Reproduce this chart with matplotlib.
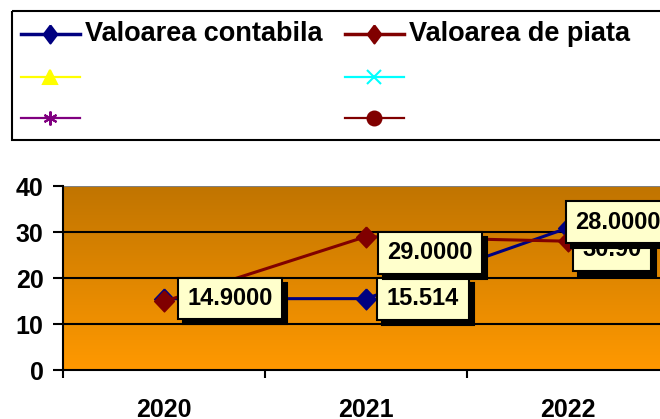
import numpy as np
import matplotlib
matplotlib.use("Agg")
import matplotlib.pyplot as plt
from matplotlib.lines import Line2D
from matplotlib.patches import Rectangle

plt.rcParams['font.family'] = ['Liberation Sans', 'DejaVu Sans']
plt.rcParams['font.weight'] = 'bold'

years = ['2020', '2021', '2022']
contabila = [15.5, 15.514, 30.9]
piata = [14.9, 29.0, 28.0]
contabila_labels = [None, '15.514', '30.90']
piata_labels = ['14.9000', '29.0000', '28.0000']
series_names = ['Valoarea contabila', 'Valoarea de piata']

# diamond shapes like the Excel markers
DIAMOND = [(0, 1), (0.95, 0), (0, -1), (-0.95, 0), (0, 1)]
LEG_DIAMOND = [(0, 1), (0.75, 0), (0, -1), (-0.75, 0), (0, 1)]

W, H = 660, 419
fig = plt.figure(figsize=(W / 100, H / 100), dpi=100)

# plot area
ax = fig.add_axes([63 / W, (H - 370) / H, 606 / W, 184 / H])
x = np.arange(len(years))
ax.set_xlim(-0.5, len(years) - 0.5)
ax.set_ylim(0, 40)

grad = np.linspace(0, 1, 256).reshape(-1, 1)
top = np.array([192, 116, 0]) / 255
bot = np.array([255, 153, 0]) / 255
img = top[None, None, :] * (1 - grad[:, :, None]) + bot[None, None, :] * grad[:, :, None]
ax.imshow(img, extent=[-0.5, len(years) - 0.5, 0, 40], aspect='auto', zorder=0)

for yv in [10, 20, 30]:
    ax.axhline(yv, color='black', lw=1.5, zorder=1)
ax.axhline(40, color='#808080', lw=1.5, zorder=1)

ax.plot(x, contabila, color='#000080', lw=2.2, marker=DIAMOND, ms=15, zorder=3)
ax.plot(x, piata, color='#800000', lw=2.2, marker=DIAMOND, ms=15, zorder=4)

for s in ['top', 'right']:
    ax.spines[s].set_visible(False)
for s in ['left', 'bottom']:
    ax.spines[s].set_linewidth(1.5)
    ax.spines[s].set_zorder(5)

ax.set_yticks([0, 10, 20, 30, 40])
ax.tick_params(axis='y', labelsize=18, length=7, width=1.5, pad=7, direction='out')
bounds = np.arange(-0.5, len(years))
ax.set_xticks(bounds, labels=[''] * len(bounds))
ax.tick_params(axis='x', which='major', length=6, width=1.5)
ax.set_xticks(x, minor=True)
ax.set_xticklabels(years, minor=True)
ax.tick_params(axis='x', which='minor', length=0, labelsize=18, pad=20)
for lab in ax.get_yticklabels() + ax.get_xticklabels(minor=True):
    lab.set_fontweight('bold')


def data_label(xv, yv, txt, dx, dy, z):
    # shadow box then the label itself
    ax.annotate(txt, (xv, yv), xytext=(dx + 5, dy - 5), textcoords='offset pixels',
                ha='center', va='center', fontsize=17, fontweight='bold', color='black',
                bbox=dict(boxstyle='square,pad=0.4', fc='black', ec='black', lw=1.5),
                zorder=z, annotation_clip=False)
    ax.annotate(txt, (xv, yv), xytext=(dx, dy), textcoords='offset pixels',
                ha='center', va='center', fontsize=17, fontweight='bold', color='black',
                bbox=dict(boxstyle='square,pad=0.4', fc='#FFFFCC', ec='black', lw=1.5),
                zorder=z + 0.5, annotation_clip=False)


c_off = [None, (57, 0), (44, -22)]
p_off = [(66, 3), (64, -16), (50, 19)]
for i in range(len(years)):
    if contabila_labels[i]:
        data_label(x[i], contabila[i], contabila_labels[i], *c_off[i], 6)
for i in range(len(years)):
    if piata_labels[i]:
        data_label(x[i], piata[i], piata_labels[i], *p_off[i], 8)

# legend box (pixel coordinates)
lax = fig.add_axes([0, 0, 1, 1], zorder=10)
lax.set_xlim(0, W)
lax.set_ylim(H, 0)
lax.axis('off')
lax.add_patch(Rectangle((12, 11), 700, 129, fill=False, ec='black', lw=1.5))

entries = [
    ('#000080', LEG_DIAMOND, series_names[0], 21, 34),
    ('#800000', LEG_DIAMOND, series_names[1], 345, 34),
    ('#FFFF00', '^', '', 21, 77),
    ('#00FFFF', 'x', '', 345, 77),
    ('#800080', (6, 2, 0), '', 21, 118),
    ('#800000', 'o', '', 345, 118),
]
for k, (col, mk, name, x0, y0) in enumerate(entries):
    main = k < 2
    lax.add_line(Line2D([x0, x0 + 59], [y0, y0], color=col, lw=2.5 if main else 1.6))
    lax.add_line(Line2D([x0 + 29], [y0], color=col, marker=mk, ms=13 if main else 10,
                        mew=1.5, mfc=col, mec=col))
    if name:
        lax.text(x0 + 64, y0, name, fontsize=19.5, fontweight='bold', va='center', ha='left')

fig.savefig('out.png', dpi=100)
